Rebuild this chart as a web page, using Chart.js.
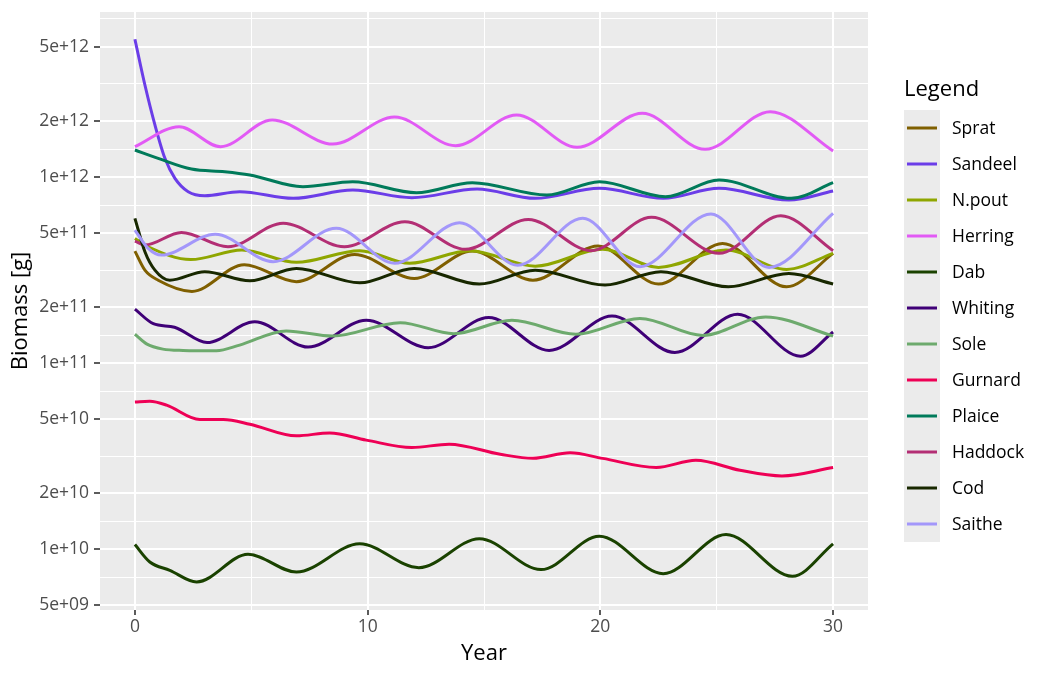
<!DOCTYPE html>
<html>
<head>
<meta charset="utf-8">
<script src="https://cdn.jsdelivr.net/npm/chart.js@4"></script>
<style>
  html, body { margin: 0; padding: 0; background: #ffffff; }
  #wrap { width: 1050px; height: 675px; position: relative; }
</style>
</head>
<body>
<div id="wrap"><canvas id="biomass"></canvas></div>
<script>
const speciesNames  = ["Sprat", "Sandeel", "N.pout", "Herring", "Dab", "Whiting",
                       "Sole", "Gurnard", "Plaice", "Haddock", "Cod", "Saithe"];
const speciesColors = ["#7F5F00", "#6B3DE8", "#8FA600", "#E25AF5", "#1A4200", "#3F0077",
                       "#6DAA6D", "#EE0055", "#007A5A", "#B32E74", "#182800", "#A397FA"];

// biomass, at the turning points of each curve
const spratYears   = [0, 0.43, 1.0, 2.45, 4.7, 6.94, 9.44, 12.0, 14.5, 17.1, 19.9, 22.5, 25.25, 28.0, 30];
const spratBiomass = [4.0e11, 3.16e11, 2.79e11, 2.43e11, 3.38e11, 2.74e11, 3.84e11, 2.85e11, 4.0e11,
                      2.79e11, 4.26e11, 2.66e11, 4.40e11, 2.57e11, 3.89e11];

const sandeelYears   = [0, 0.43, 0.86, 1.29, 1.72, 2.29, 3.0, 4.5, 6.8, 9.36, 11.9, 14.7, 17.2, 19.96, 22.7, 25.1, 28.1, 30];
const sandeelBiomass = [5.5e12, 3.12e12, 1.905e12, 1.26e12, 9.84e11, 8.34e11, 7.94e11, 8.34e11, 7.68e11,
                        8.51e11, 7.74e11, 8.62e11, 7.68e11, 8.69e11, 7.68e11, 8.69e11, 7.52e11, 8.41e11];

const npoutYears   = [0, 0.57, 2.4, 4.6, 6.94, 9.66, 11.8, 14.4, 17.2, 20.1, 22.5, 25.4, 28.0, 30];
const npoutBiomass = [4.68e11, 4.22e11, 3.6e11, 4.05e11, 3.48e11, 4.02e11, 3.44e11, 4.02e11, 3.32e11,
                      4.09e11, 3.27e11, 4.05e11, 3.19e11, 3.89e11];

const herringYears   = [0, 1.9, 3.68, 5.9, 8.5, 11.16, 13.78, 16.4, 19.0, 21.8, 24.5, 27.3, 30];
const herringBiomass = [1.455e12, 1.864e12, 1.455e12, 2.025e12, 1.504e12, 2.10e12, 1.473e12, 2.154e12,
                        1.444e12, 2.20e12, 1.409e12, 2.245e12, 1.38e12];

const dabYears   = [0, 0.64, 1.5, 2.65, 4.86, 6.94, 9.66, 12.2, 14.8, 17.45, 19.96, 22.7, 25.4, 28.25, 30];
const dabBiomass = [1.06e10, 8.55e9, 7.71e9, 6.68e9, 9.4e9, 7.55e9, 1.07e10, 7.97e9, 1.14e10,
                    7.78e9, 1.175e10, 7.4e9, 1.2e10, 7.16e9, 1.07e10];

const whitingYears   = [0, 0.79, 1.7, 3.1, 5.15, 7.44, 9.94, 12.6, 15.2, 17.8, 20.5, 23.2, 25.9, 28.6, 30];
const whitingBiomass = [1.95e11, 1.63e11, 1.56e11, 1.29e11, 1.67e11, 1.22e11, 1.70e11, 1.21e11, 1.76e11,
                        1.17e11, 1.79e11, 1.14e11, 1.83e11, 1.09e11, 1.47e11];

const soleYears   = [0, 0.5, 1.2, 2.07, 3.5, 4.5, 6.5, 8.5, 11.4, 13.7, 16.2, 18.95, 21.7, 24.4, 27.1, 30];
const soleBiomass = [1.43e11, 1.27e11, 1.19e11, 1.17e11, 1.165e11, 1.25e11, 1.49e11, 1.40e11, 1.65e11, 1.44e11,
                     1.70e11, 1.43e11, 1.74e11, 1.41e11, 1.77e11, 1.40e11];

const gurnardYears   = [0, 0.64, 1.36, 2.79, 3.8, 4.94, 6.94, 8.37, 9.94, 11.9, 13.5, 15.7, 17.1, 18.7,
                        20.1, 22.4, 24.1, 26.0, 27.8, 30];
const gurnardBiomass = [6.19e10, 6.24e10, 5.95e10, 4.98e10, 4.98e10, 4.70e10, 4.07e10, 4.22e10, 3.86e10,
                        3.52e10, 3.67e10, 3.24e10, 3.08e10, 3.30e10, 3.08e10, 2.75e10, 3.01e10, 2.66e10,
                        2.48e10, 2.75e10];

const plaiceYears   = [0, 1.0, 2.43, 3.86, 4.94, 7.22, 9.36, 12.1, 14.5, 17.7, 19.96, 22.8, 25.1, 28.2, 30];
const plaiceBiomass = [1.397e12, 1.26e12, 1.104e12, 1.068e12, 1.025e12, 8.87e11, 9.43e11, 8.23e11, 9.32e11,
                       8.0e11, 9.43e11, 7.84e11, 9.64e11, 7.68e11, 9.32e11];

const haddockYears   = [0, 0.43, 2.0, 4.0, 6.37, 9.0, 11.6, 14.2, 16.9, 19.6, 22.2, 25.1, 27.75, 30];
const haddockBiomass = [4.53e11, 4.31e11, 5.04e11, 4.22e11, 5.64e11, 4.22e11, 5.75e11, 4.09e11, 5.92e11,
                        4.02e11, 6.07e11, 3.89e11, 6.19e11, 4.02e11];

const codYears   = [0, 0.43, 0.86, 1.5, 3.0, 4.94, 6.94, 9.66, 12.0, 14.8, 17.2, 20.2, 22.6, 25.5, 28.1, 30];
const codBiomass = [6.0e11, 3.97e11, 3.16e11, 2.79e11, 3.1e11, 2.77e11, 3.23e11, 2.7e11, 3.23e11,
                    2.66e11, 3.16e11, 2.63e11, 3.1e11, 2.57e11, 3.03e11, 2.66e11];

const saitheYears   = [0, 0.57, 1.14, 3.45, 5.94, 8.65, 11.16, 13.95, 16.45, 19.24, 21.7, 24.75, 27.25, 30];
const saitheBiomass = [5.19e11, 4.14e11, 3.81e11, 4.93e11, 3.51e11, 5.3e11, 3.44e11, 5.68e11, 3.36e11,
                       6.0e11, 3.3e11, 6.33e11, 3.27e11, 6.38e11];

const seriesYears   = [spratYears, sandeelYears, npoutYears, herringYears, dabYears, whitingYears,
                       soleYears, gurnardYears, plaiceYears, haddockYears, codYears, saitheYears];
const seriesBiomass = [spratBiomass, sandeelBiomass, npoutBiomass, herringBiomass, dabBiomass, whitingBiomass,
                       soleBiomass, gurnardBiomass, plaiceBiomass, haddockBiomass, codBiomass, saitheBiomass];

const yMajorTicks  = [5e9, 1e10, 2e10, 5e10, 1e11, 2e11, 5e11, 1e12, 2e12, 5e12];
const yMajorLabels = ["5e+09", "1e+10", "2e+10", "5e+10", "1e+11", "2e+11", "5e+11", "1e+12", "2e+12", "5e+12"];
const yMinorTicks  = [7.071e9, 1.414e10, 3.162e10, 7.071e10, 1.414e11, 3.162e11, 7.071e11, 1.414e12, 3.162e12, 7.071e12];
const xMajorTicks  = [0, 10, 20, 30];
const xMinorTicks  = [5, 15, 25];

const FONT = "'Open Sans', 'Noto Sans', sans-serif";
Chart.defaults.font.family = FONT;

function setTicks(major, minor) {
  return (scale) => {
    const all = major.concat(minor).sort((a, b) => a - b);
    scale.ticks = all.map((v) => ({ value: v }));
  };
}

function isMajor(list, ctx) {
  return ctx.tick && list.includes(ctx.tick.value);
}

const panelBackground = {
  id: "panelBackground",
  beforeDraw(chart) {
    const { ctx, chartArea } = chart;
    ctx.save();
    ctx.fillStyle = "#EBEBEB";
    ctx.fillRect(chartArea.left, chartArea.top, chartArea.right - chartArea.left, chartArea.bottom - chartArea.top);
    ctx.restore();
  },
};

const ggLegend = {
  id: "ggLegend",
  afterDraw(chart) {
    const ctx = chart.ctx;
    const sets = chart.data.datasets;
    const x0 = 904, top = 110, step = 36;
    ctx.save();
    ctx.fillStyle = "#000000";
    ctx.font = "22px " + FONT;
    ctx.textBaseline = "middle";
    ctx.textAlign = "left";
    ctx.fillText("Legend", x0, 90);

    ctx.fillStyle = "#EBEBEB";
    ctx.fillRect(x0, top, 36, step * sets.length);

    ctx.font = "17.5px " + FONT;
    sets.forEach((ds, i) => {
      const y = top + step * i + step / 2;
      ctx.strokeStyle = ds.borderColor;
      ctx.lineWidth = 3;
      ctx.beginPath();
      ctx.moveTo(x0 + 3, y);
      ctx.lineTo(x0 + 33, y);
      ctx.stroke();
      ctx.fillStyle = "#000000";
      ctx.fillText(ds.label, 952, y + 1);
    });
    ctx.restore();
  },
};

new Chart(document.getElementById("biomass"), {
  type: "line",
  data: {
    datasets: speciesNames.map((name, i) => ({
      label: name,
      data: seriesYears[i].map((yr, j) => ({ x: yr, y: seriesBiomass[i][j] })),
      borderColor: speciesColors[i],
      backgroundColor: speciesColors[i],
      borderWidth: 3,
      pointRadius: 0,
      cubicInterpolationMode: "monotone",
      fill: false,
      order: speciesNames.length - i,
    })),
  },
  options: {
    responsive: true,
    maintainAspectRatio: false,
    animation: false,
    layout: { padding: { top: 12, right: 182, left: 0, bottom: 0 } },
    plugins: {
      legend: { display: false },
      tooltip: { enabled: false },
    },
    scales: {
      x: {
        type: "linear",
        min: -1.5,
        max: 31.5,
        afterBuildTicks: setTicks(xMajorTicks, xMinorTicks),
        afterFit: (s) => { s.height = 65; s.paddingLeft = 0; s.paddingRight = 0; },
        border: { display: false },
        grid: {
          color: "#FFFFFF",
          lineWidth: (ctx) => (isMajor(xMajorTicks, ctx) ? 2 : 1),
          tickColor: (ctx) => (isMajor(xMajorTicks, ctx) ? "#333333" : "rgba(0,0,0,0)"),
          tickLength: 5,
          tickWidth: 1.6,
        },
        ticks: {
          autoSkip: false,
          maxRotation: 0,
          padding: 2,
          color: "#4D4D4D",
          font: { size: 17.5 },
          callback: (v) => (xMajorTicks.includes(v) ? String(v) : ""),
        },
        title: {
          display: true,
          text: "Year",
          color: "#000000",
          font: { size: 22 },
          padding: { top: 0, bottom: 8 },
        },
      },
      y: {
        type: "logarithmic",
        min: 4.72e9,
        max: 7.7e12,
        afterBuildTicks: setTicks(yMajorTicks, yMinorTicks),
        afterFit: (s) => { s.width = 100; s.paddingTop = 0; s.paddingBottom = 0; },
        border: { display: false },
        grid: {
          color: "#FFFFFF",
          lineWidth: (ctx) => (isMajor(yMajorTicks, ctx) ? 2 : 1),
          tickColor: (ctx) => (isMajor(yMajorTicks, ctx) ? "#333333" : "rgba(0,0,0,0)"),
          tickLength: 6,
          tickWidth: 1.6,
        },
        ticks: {
          autoSkip: false,
          padding: 5,
          color: "#4D4D4D",
          font: { size: 17.5 },
          callback: (v) => {
            const i = yMajorTicks.indexOf(v);
            return i >= 0 ? yMajorLabels[i] : "";
          },
        },
        title: {
          display: true,
          text: "Biomass [g]",
          color: "#000000",
          font: { size: 22 },
          padding: { top: 8, bottom: 0 },
        },
      },
    },
  },
  plugins: [panelBackground, ggLegend],
});
</script>
</body>
</html>
